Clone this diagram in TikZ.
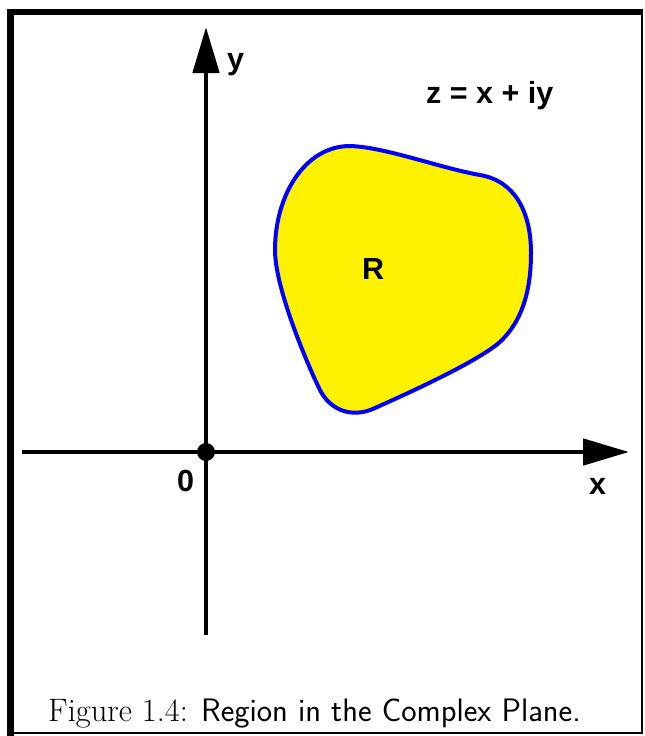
\documentclass[tikz,border=0pt]{standalone}
\usepackage{fontspec}
\newfontfamily\arialb{Liberation Sans}[BoldFont={* Bold}]
\usetikzlibrary{arrows.meta}
\begin{document}
\begin{tikzpicture}[x=1pt,y=-1pt,
  axis/.style={line width=4.8pt,-{Triangle[length=46pt,width=26pt]}},
  lbl/.style={inner sep=0pt,anchor=base west,font=\arialb\bfseries\fontsize{30.5}{34}\selectfont},
  region/.style={draw=blue,line width=4pt,fill=yellow}]
\useasboundingbox (0,0) rectangle (645,736);
% frame
\draw[line width=7pt] (10.5,9) -- (10.5,736);
\draw[line width=6pt] (7,12) -- (643,12);
\draw[line width=2.5pt] (642,9) -- (642,734);
\draw[line width=2.5pt] (7,733) -- (643,733);
% region
\draw[region] (350,146) .. controls (385,147) and (440,168) .. (480,175)
  .. controls (515,181) and (531,212) .. (531,253)
  .. controls (531,295) and (520,322) .. (502,340)
  .. controls (484,358) and (420,388) .. (375,408)
  .. controls (352,419) and (330,410) .. (320,390)
  .. controls (310,370) and (275,290) .. (275,250)
  .. controls (275,195) and (305,146) .. (350,146) -- cycle;
% axes
\coordinate (xl) at (22,452);
\coordinate (xr) at (629,452);
\coordinate (yb) at (206,635);
\coordinate (yt) at (206,27);
\coordinate (o) at (206,452);
\draw[axis] (xl) -- (xr);
\draw[axis] (yb) -- (yt);
\fill (o) circle (9);
% labels
\node[lbl] (ylab) at (227,69) {y};
\node[lbl] (xlab) at (589,494) {x};
\node[lbl] (zero) at (177,491) {0};
\node[lbl] (rlab) at (362,279) {R};
\node[lbl] (zeq) at (426,103) {z = x + iy};
\node[inner sep=0pt,anchor=base west,font=\fontsize{32.5}{36}\selectfont] (cap) at (48,721) {Figure 1.4: {\sffamily Region in the Complex Plane.}};
\end{tikzpicture}
\end{document}
